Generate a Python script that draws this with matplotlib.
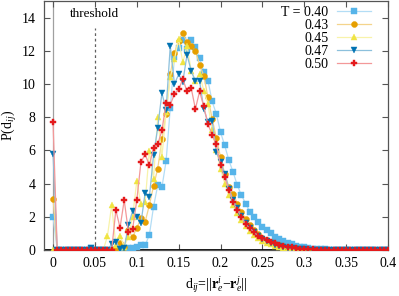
import numpy as np
import matplotlib
matplotlib.use("Agg")
import matplotlib.pyplot as plt
from matplotlib.colors import to_rgb

plt.rcParams['font.family'] = ['Liberation Serif', 'DejaVu Serif']
plt.rcParams['mathtext.fontset'] = 'custom'
plt.rcParams['mathtext.rm'] = 'Liberation Serif'
plt.rcParams['mathtext.it'] = 'Liberation Serif:italic'
plt.rcParams['mathtext.bf'] = 'Liberation Serif:bold'

# bin centres of d_ij (0 .. 0.4, step 0.005)
d_bins = [round(0.005 * k, 3) for k in range(81)]

p_040 = [2.0, 0, 0, 0, 0, 0, 0, 0, 0, 0.15,
         0, 0, 0, 0, 0, 0, 0.05, 0.1, 0.1, 0.15,
         0.2, 0.3, 0.3, 0.9, 2.6, 3.9, 3.77, 5.35, 8.55, 11.6,
         12.15, 12.66, 12.1, 12.66, 12.2, 11.55, 10.75, 10.2, 8.95, 8.2,
         7.1, 6.3, 5.4, 4.7, 3.9, 3.3, 2.8, 2.3, 2.0, 1.7,
         1.4, 1.2, 1.0, 0.8, 0.66, 0.55, 0.44, 0.34, 0.26, 0.2,
         0.16, 0.12, 0.09, 0.07, 0.05, 0.04, 0.03, 0.02, 0.02, 0.01,
         0.01, 0.01, 0, 0, 0, 0, 0, 0, 0, 0, 0]
p_043 = [3.1, 0, 0, 0, 0, 0, 0, 0, 0, 0,
         0, 0, 0, 0, 0, 0.1, 0.45, 0.2, 1.2, 0.76,
         1.34, 1.9, 1.7, 2.7, 3.85, 4.9, 6.67, 8.2, 10.6, 11.88,
         12.6, 13.1, 12.5, 12.26, 12.0, 11.16, 10.5, 9.2, 7.9, 6.77,
         5.6, 4.6, 3.8, 3.4, 2.8, 2.3, 1.85, 1.5, 1.2, 0.95,
         0.75, 0.6, 0.48, 0.38, 0.3, 0.23, 0.18, 0.14, 0.1, 0.08,
         0.06, 0.04, 0.03, 0.02, 0.02, 0.01, 0, 0, 0, 0,
         0, 0, 0, 0, 0, 0, 0, 0, 0, 0, 0]
p_045 = [0, 0, 0, 0, 0, 0, 0, 0, 0, 0,
         0, 0, 0, 0.85, 2.7, 0.3, 0.85, 0.2, 0.8, 2.0,
         4.15, 2.75, 2.9, 5.95, 4.3, 8.0, 5.6, 8.3, 10.4, 11.5,
         12.7, 11.3, 12.3, 10.8, 10.2, 10.6, 9.6, 8.8, 7.2, 6.0,
         4.9, 4.0, 3.3, 2.7, 2.2, 1.8, 1.45, 1.15, 0.92, 0.72,
         0.57, 0.45, 0.35, 0.27, 0.2, 0.15, 0.11, 0.08, 0.06, 0.04,
         0.03, 0.02, 0.01, 0, 0, 0, 0, 0, 0, 0,
         0, 0, 0, 0, 0, 0, 0, 0, 0, 0, 0]
p_047 = [5.8, 0, 0, 0, 0, 0, 0, 0, 0, 0.1,
         0, 0, 0, 0, 0.35, 0.5, 0.05, 0.1, 1.5, 2.35,
         2.0, 1.62, 3.46, 3.18, 5.7, 7.37, 9.45, 8.45, 12.3, 10.0,
         10.58, 10.15, 11.76, 10.78, 10.18, 10.18, 8.5, 7.7, 7.8, 5.9,
         5.3, 4.6, 3.7, 3.0, 2.55, 2.05, 1.65, 1.35, 1.1, 0.85,
         0.68, 0.54, 0.42, 0.33, 0.26, 0.2, 0.15, 0.11, 0.08, 0.06,
         0.04, 0.03, 0.02, 0.01, 0, 0, 0, 0, 0, 0,
         0, 0, 0, 0, 0, 0, 0, 0, 0, 0, 0]
p_050 = [7.7, 0, 0, 0, 0, 0, 0, 0, 0, 0,
         0, 0, 0, 0, 0, 2.4, 1.35, 3.0, 1.1, 1.26,
         3.0, 5.3, 5.77, 5.1, 6.15, 6.37, 7.2, 8.85, 8.75, 9.4,
         9.67, 10.3, 9.55, 9.75, 8.5, 9.55, 8.65, 7.57, 6.95, 6.37,
         5.1, 4.4, 3.6, 2.87, 2.4, 2.0, 1.56, 1.3, 1.1, 0.84,
         0.74, 0.6, 0.5, 0.4, 0.3, 0.24, 0.2, 0.16, 0.12, 0.09,
         0.07, 0.05, 0.04, 0.03, 0.02, 0.01, 0, 0, 0, 0,
         0, 0, 0, 0, 0, 0, 0, 0, 0, 0, 0]

series = [p_040, p_043, p_045, p_047, p_050]
labels = ['T = 0.40', '0.43', '0.45', '0.47', '0.50']
colors = ['#56B4E9', '#E69F00', '#F0E442', '#0072B2', '#E41A1C']
markers = ['s', 'o', '^', 'v', 'P']
msizes = [3.9, 4.3, 4.0, 4.0, 4.0]

x_ticks = [0, 0.05, 0.1, 0.15, 0.2, 0.25, 0.3, 0.35, 0.4]
x_ticklabels = ['0', '0.05', '0.1', '0.15', '0.2', '0.25', '0.3', '0.35', '0.4']
y_ticks = [0, 2, 4, 6, 8, 10, 12, 14]
threshold = 0.05


def pale(c, f=0.55):
    r, g, b = to_rgb(c)
    return (r + (1 - r) * f, g + (1 - g) * f, b + (1 - b) * f)


fig = plt.figure(figsize=(3.99, 2.96), dpi=100)
ax = fig.add_axes([44 / 399, (296 - 250) / 296, (388 - 44) / 399, 249 / 296])

ax.axvline(0, color='#a0a0a0', lw=0.9, zorder=1)
ax.vlines(threshold, 0, 13.4, colors='#606060', linestyles=(0, (2.2, 2.2)), lw=0.9, zorder=1)
ax.text(threshold, 14.2, 'threshold', ha='center', va='center', fontsize=9.5)

for vals, lab, c, m, ms in zip(series, labels, colors, markers, msizes):
    ax.plot(d_bins, vals, color=pale(c), lw=0.9, marker=m, ms=ms,
            mfc=c, mec=c, mew=0.3, label=lab, zorder=3)

ax.axhline(0, color='black', lw=1.3, zorder=2)

ax.set_xlim(-0.0108, 0.4)
ax.set_ylim(0, 15)
ax.set_xticks(x_ticks)
ax.set_xticklabels(x_ticklabels)
ax.set_yticks(y_ticks)
ax.tick_params(direction='in', top=True, right=True, length=4, width=0.8,
               labelsize=10, colors='#555555', labelcolor='black')
ax.tick_params(axis='y', pad=6)
ax.tick_params(axis='x', pad=5)
for s in ax.spines.values():
    s.set_color('#555555')
    s.set_linewidth(0.9)

ax.set_xlabel(r'd$_{ij}$=||$\mathbf{r}_e^i$$-$$\mathbf{r}_e^j$||', fontsize=10)
ax.set_ylabel(r'P(d$_{ij}$)', fontsize=10)
ax.yaxis.set_label_coords(-0.074, 0.5)
ax.xaxis.set_label_coords(0.5, -0.1)

leg = ax.legend(loc='upper right', bbox_to_anchor=(0.982, 1.025), frameon=False,
                markerfirst=False, fontsize=10, handlelength=2.45,
                handletextpad=0.6, labelspacing=0.0, borderpad=0.3)

fig.savefig('out.png', dpi=100)
